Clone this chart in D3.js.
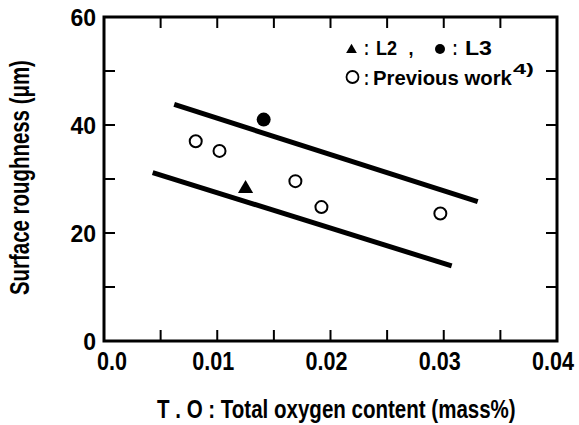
<!DOCTYPE html>
<html>
<head>
<meta charset="utf-8">
<script src="https://cdn.jsdelivr.net/npm/d3@7"></script>
<style>
  body { margin: 0; background: #fff; }
  svg text { font-family: "Liberation Sans", Arial, sans-serif; font-weight: bold; fill: #000; }
</style>
</head>
<body>
<svg id="chart"></svg>
<script>
// data
const prevX = [0.0081, 0.0102, 0.0169, 0.0192, 0.0297];
const prevY = [37.0, 35.2, 29.6, 24.8, 23.6];
const l2X = [0.0125], l2Y = [28.2];
const l3X = [0.0141], l3Y = [41.0];
// band lines (start, end)
const upperX = [0.0062, 0.0330], upperY = [43.8, 25.8];
const lowerX = [0.0043, 0.0307], lowerY = [31.2, 13.9];
const xTicks = [0, 0.01, 0.02, 0.03, 0.04];
const xTickLabels = ["0.0", "0.01", "0.02", "0.03", "0.04"];
const yTicks = [0, 20, 40, 60];

const width = 579, height = 425;
const margin = {top: 17, right: 22, bottom: 84, left: 104};

const svg = d3.select("#chart").attr("width", width).attr("height", height);

const x = d3.scaleLinear().domain([0, 0.04]).range([margin.left, width - margin.right]);
const y = d3.scaleLinear().domain([0, 60]).range([height - margin.bottom, margin.top]);

// the original uses a condensed face: squeeze text horizontally to a given width
const fitText = (parent, str, size, w, tf, anchor) => {
  const t = parent.append("text")
    .attr("text-anchor", anchor || "start")
    .style("font-size", size + "px")
    .text(str);
  const k = w / t.node().getComputedTextLength();
  t.attr("transform", `${tf} scale(${k},1)`);
  return t;
};

// minor ticks (inward) on all four sides
const xMinor = d3.range(0.005, 0.04, 0.005);
const yMinor = d3.range(10, 60, 10);
const tickLen = 11;
const tk = svg.append("g").attr("stroke", "#000").attr("stroke-width", 2);
xMinor.forEach(v => {
  tk.append("line").attr("x1", x(v)).attr("x2", x(v)).attr("y1", y(0)).attr("y2", y(0) - tickLen);
  tk.append("line").attr("x1", x(v)).attr("x2", x(v)).attr("y1", y(60)).attr("y2", y(60) + tickLen);
});
yMinor.forEach(v => {
  tk.append("line").attr("y1", y(v)).attr("y2", y(v)).attr("x1", x(0)).attr("x2", x(0) + tickLen);
  tk.append("line").attr("y1", y(v)).attr("y2", y(v)).attr("x1", x(0.04)).attr("x2", x(0.04) - tickLen);
});

// frame
svg.append("rect")
  .attr("x", x(0)).attr("y", y(60))
  .attr("width", x(0.04) - x(0)).attr("height", y(0) - y(60))
  .attr("fill", "none").attr("stroke", "#000").attr("stroke-width", 3);

// tick labels (the first one sits right of the origin, as in the original)
const xl = svg.append("g");
xTicks.forEach((d, i) => {
  const cx = i === 0 ? x(d) + 8 : x(d) - 4;
  fitText(xl, xTickLabels[i], 25, i === 0 ? 30 : 42, `translate(${cx},${y(0) + 29})`, "middle");
});

svg.append("g").selectAll("text").data(yTicks).join("text")
  .attr("x", x(0) - 8).attr("y", d => y(d) + 9)
  .attr("text-anchor", "end")
  .style("font-size", "23px")
  .text(d => d);

// axis titles
fitText(svg, "T . O : Total  oxygen  content  (mass%)", 26, 359, "translate(157,418)");
fitText(svg, "Surface  roughness  (μm)", 28, 235, "translate(29,295) rotate(-90)");

// band lines
const line = d3.line().x(d => x(d[0])).y(d => y(d[1]));
[[upperX, upperY], [lowerX, lowerY]].forEach(([xs, ys]) => {
  svg.append("path")
    .attr("d", line(d3.zip(xs, ys)))
    .attr("stroke", "#000").attr("stroke-width", 5).attr("fill", "none");
});

// points
svg.append("g").selectAll("circle").data(d3.zip(prevX, prevY)).join("circle")
  .attr("cx", d => x(d[0])).attr("cy", d => y(d[1])).attr("r", 6)
  .attr("fill", "#fff").attr("stroke", "#000").attr("stroke-width", 2);

svg.append("g").selectAll("circle").data(d3.zip(l3X, l3Y)).join("circle")
  .attr("cx", d => x(d[0])).attr("cy", d => y(d[1])).attr("r", 7)
  .attr("fill", "#000");

const tri = d3.symbol().type(d3.symbolTriangle).size(100);
svg.append("g").selectAll("path").data(d3.zip(l2X, l2Y)).join("path")
  .attr("transform", d => `translate(${x(d[0])},${y(d[1])})`)
  .attr("d", tri).attr("fill", "#000");

// legend
const lg = svg.append("g");
lg.append("path").attr("transform", "translate(351.5,50)").attr("d", d3.symbol().type(d3.symbolTriangle).size(50)).attr("fill", "#000");
fitText(lg, ":", 21, 5, "translate(366.5,55)", "middle");
fitText(lg, "L2", 21, 21, "translate(376,55)");
fitText(lg, ",", 21, 5, "translate(411,55)", "middle");
lg.append("circle").attr("cx", 440).attr("cy", 49).attr("r", 5).attr("fill", "#000");
fitText(lg, ":", 21, 5, "translate(455,55)", "middle");
fitText(lg, "L3", 21, 27, "translate(465,55)");
lg.append("circle").attr("cx", 352.5).attr("cy", 77).attr("r", 6).attr("fill", "#fff").attr("stroke", "#000").attr("stroke-width", 1.8);
fitText(lg, ":", 21, 5, "translate(366.5,85)", "middle");
fitText(lg, "Previous work", 21, 139, "translate(373,85)");
fitText(lg, "4)", 15, 21, "translate(513,74)");
</script>
</body>
</html>
